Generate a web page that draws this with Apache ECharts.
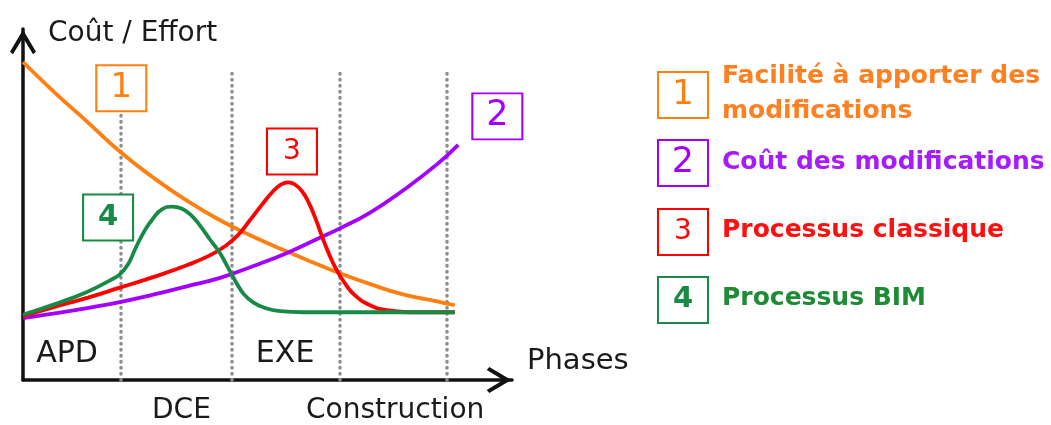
<!DOCTYPE html>
<html lang="fr">
<head>
<meta charset="utf-8">
<title>Courbe de MacLeamy</title>
<script src="https://cdn.jsdelivr.net/npm/echarts@6/dist/echarts.min.js"></script>
<style>
  html, body { margin: 0; padding: 0; background: #ffffff; }
  #chart { width: 1051px; height: 425px; }
</style>
</head>
<body>
<div id="chart"></div>
<script>
// Phases du projet : limites (pointillés) et libellés
const phaseBounds = [20.0, 42.7, 64.8, 86.7];
const phaseNames = ['APD', 'DCE', 'EXE', 'Construction'];
const phaseCenters = [9.0, 32.4, 53.6, 76.1];
const phaseLineTop = 87.8;

// Courbes : [avancement, coût / effort]
const easeOfChange = [
  [0, 90.6], [6.1, 82.4], [13.1, 73.6], [19.8, 65.1], [26.6, 57.7], [33.5, 51.1],
  [40.3, 45.5], [47.0, 40.9], [54.0, 36.6], [60.7, 32.7], [64.8, 30.4], [71.0, 27.3],
  [77.7, 24.4], [84.7, 22.4], [88.3, 21.3]
];
const changeCost = [
  [0, 17.6], [6.1, 18.9], [13.1, 20.5], [19.8, 22.2], [26.6, 24.3], [33.5, 26.7],
  [40.3, 29.1], [47.0, 32.4], [54.0, 36.2], [60.7, 40.5], [64.8, 43.2], [71.0, 47.7],
  [77.7, 54.0], [84.7, 61.5], [89.0, 67.0]
];
const classicProcess = [
  [0, 18.2], [6.1, 20.7], [13.1, 23.4], [19.8, 26.3], [26.6, 29.3], [33.5, 32.7],
  [38.2, 35.5], [41.3, 38.1], [43.9, 41.2], [46.4, 45.5], [48.9, 50.0], [51.1, 53.7],
  [52.8, 55.7], [54.2, 56.3], [55.6, 55.7], [57.1, 53.7], [58.5, 50.3], [59.9, 45.7],
  [61.3, 40.3], [62.8, 35.2], [64.2, 31.2], [65.8, 27.6], [67.9, 24.1], [71.0, 21.3],
  [74.4, 19.9], [81.2, 19.3], [88.3, 19.3]
];
const bimProcess = [
  [0, 18.6], [6.1, 21.4], [13.1, 25.1], [17.8, 28.4], [19.8, 30.1], [21.5, 33.0],
  [23.1, 37.8], [24.9, 42.6], [26.6, 46.0], [28.4, 48.6], [30.5, 49.4], [32.3, 48.9],
  [34.2, 47.2], [36.2, 44.0], [38.2, 40.1], [40.3, 36.1], [41.9, 32.1], [43.6, 27.8],
  [45.2, 24.4], [47.0, 22.2], [49.5, 20.5], [52.6, 19.6], [57.3, 19.3], [88.3, 19.3]
];

// Légende et repères numérotés
const seriesLabels = [
  'Facilité à apporter des\nmodifications',
  'Coût des modifications',
  'Processus classique',
  'Processus BIM'
];
const seriesNumbers = ['1', '2', '3', '4'];
const numberBoxAt = [[20.1, 83.1], [97.0, 75.1], [55.0, 65.1], [17.4, 46.3]];

const FONT = 'DejaVu Sans';
const INK = '#1a1a1a';
const lineColors = ['#FF7F10', '#A300FF', '#FF0000', '#178A45'];
const textColors = ['#FF8020', '#A61CFF', '#FF1010', '#1E8C35'];
const numberSizes = [34, 35, 28, 29];
const numberWeights = ['normal', 'normal', 'normal', 'bold'];
const chevron = 'path://M13,0 L26,22 L23,24.5 L13,8 L3,24.5 L0,22 Z';

const seriesData = [easeOfChange, changeCost, classicProcess, bimProcess];

const chart = echarts.init(document.getElementById('chart'), null, { renderer: 'canvas' });

const phaseLabel = v => phaseNames[phaseCenters.indexOf(v)];
const axisLineStyle = {
  show: true,
  onZero: false,
  symbol: ['none', chevron],
  symbolSize: [26, 25],
  symbolOffset: [0, -13],
  lineStyle: { color: '#111111', width: 3.5 }
};

const series = seriesData.map((data, i) => {
  const s = {
    type: 'line',
    name: seriesLabels[i].replace('\n', ' '),
    data: data,
    smooth: 0.5,
    symbol: 'none',
    silent: true,
    z: 2 + i,
    lineStyle: { color: lineColors[i], width: 3.8 },
    markPoint: {
      silent: true,
      symbol: 'rect',
      symbolSize: [50, 46],
      z: 10,
      itemStyle: { color: '#ffffff', borderColor: lineColors[i], borderWidth: 2 },
      label: {
        show: true,
        position: 'inside',
        formatter: seriesNumbers[i],
        color: lineColors[i],
        fontFamily: FONT,
        fontSize: numberSizes[i],
        fontWeight: numberWeights[i]
      },
      data: [{ coord: numberBoxAt[i] }]
    }
  };
  if (i === 0) {
    s.markLine = {
      silent: true,
      z: 1,
      symbol: ['none', 'none'],
      label: { show: false },
      lineStyle: { color: '#8e8e8e', width: 3.5, type: [0.5, 5.5], cap: 'round' },
      data: phaseBounds.map(x => [{ coord: [x, 0] }, { coord: [x, phaseLineTop] }])
    };
  }
  return s;
});

// Légende à droite : case numérotée + libellé coloré
const graphic = [];
seriesLabels.forEach((label, i) => {
  const top = 72 + i * 68.3;
  const cy = top + 23;
  graphic.push({
    type: 'rect',
    silent: true,
    shape: { x: 658, y: Math.round(top), width: 50, height: 46 },
    style: { fill: '#ffffff', stroke: lineColors[i], lineWidth: 2 }
  });
  graphic.push({
    type: 'text',
    silent: true,
    x: 683,
    y: cy,
    style: {
      text: seriesNumbers[i],
      fill: lineColors[i],
      font: numberWeights[i] + ' ' + numberSizes[i] + 'px "' + FONT + '"',
      align: 'center',
      verticalAlign: 'middle'
    }
  });
  graphic.push({
    type: 'text',
    silent: true,
    x: 722,
    y: cy - 1,
    style: {
      text: label,
      fill: textColors[i],
      font: 'bold 25px "' + FONT + '"',
      lineHeight: 35,
      align: 'left',
      verticalAlign: 'middle'
    }
  });
});

chart.setOption({
  animation: false,
  backgroundColor: '#ffffff',
  grid: { left: 23, right: 539, top: 29, bottom: 44, containLabel: false },
  xAxis: [
    {
      type: 'value',
      min: 0,
      max: 100,
      position: 'bottom',
      name: 'Phases',
      nameLocation: 'end',
      nameGap: 15,
      nameTextStyle: {
        fontFamily: FONT, fontSize: 29, color: INK,
        verticalAlign: 'bottom', padding: [0, 0, 4, 0]
      },
      axisLine: axisLineStyle,
      axisTick: { show: false },
      splitLine: { show: false },
      axisLabel: {
        show: true,
        customValues: [phaseCenters[1], phaseCenters[3]],
        formatter: phaseLabel,
        margin: 17,
        fontFamily: FONT, fontSize: 28, color: INK
      }
    },
    {
      type: 'value',
      min: 0,
      max: 100,
      position: 'bottom',
      offset: 0,
      axisLine: { show: false },
      axisTick: { show: false },
      splitLine: { show: false },
      axisLabel: {
        show: true,
        inside: true,
        customValues: [phaseCenters[0], phaseCenters[2]],
        formatter: phaseLabel,
        margin: 11,
        fontFamily: FONT, fontSize: 30, color: INK
      }
    }
  ],
  yAxis: {
    type: 'value',
    min: 0,
    max: 100,
    name: 'Coût / Effort',
    nameLocation: 'end',
    nameGap: -5,
    nameTextStyle: {
      fontFamily: FONT, fontSize: 28, color: INK,
      align: 'left', verticalAlign: 'middle', padding: [0, 0, 0, 25]
    },
    axisLine: axisLineStyle,
    axisTick: { show: false },
    axisLabel: { show: false },
    splitLine: { show: false }
  },
  series: series,
  graphic: graphic
});
</script>
</body>
</html>
